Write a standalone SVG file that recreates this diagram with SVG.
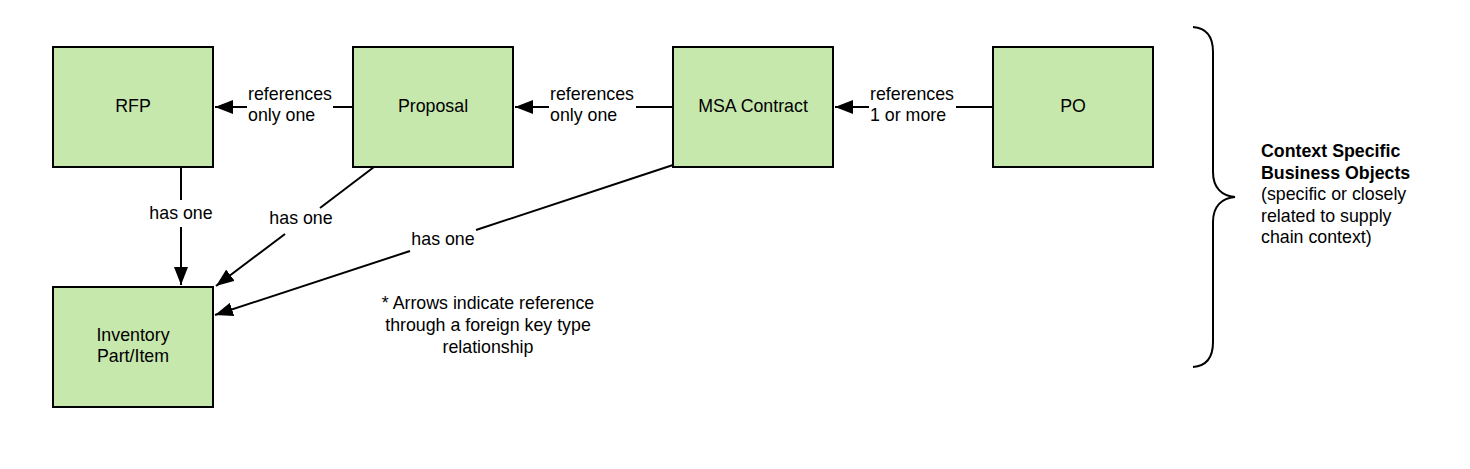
<svg xmlns="http://www.w3.org/2000/svg" width="1470" height="469" viewBox="0 0 1470 469">
<style>
.box{fill:#c7e8ac;stroke:#000;stroke-width:2}
.ln{stroke:#000;stroke-width:2;fill:none}
text{font-family:"Liberation Sans",Arial,sans-serif;font-size:17.8px;fill:#000}
.c{text-anchor:middle}
.b{font-weight:bold}
</style>
<defs>
<marker id="ah" markerUnits="userSpaceOnUse" markerWidth="20" markerHeight="14" refX="18" refY="7" orient="auto">
<path d="M0,0 L18,7 L0,14 Z" fill="#000"/>
</marker>
</defs>
<rect width="1470" height="469" fill="#fff"/>
<g id="connectors">
<line class="ln" x1="353" y1="107" x2="333" y2="107"/>
<line class="ln" x1="247" y1="107" x2="215" y2="107" marker-end="url(#ah)"/>
<text x="248" y="100">references</text>
<text x="248" y="121">only one</text>
<line class="ln" x1="673" y1="107" x2="636" y2="107"/>
<line class="ln" x1="549" y1="107" x2="515" y2="107" marker-end="url(#ah)"/>
<text x="550" y="100">references</text>
<text x="550" y="121">only one</text>
<line class="ln" x1="993" y1="107" x2="956" y2="107"/>
<line class="ln" x1="869" y1="107" x2="835" y2="107" marker-end="url(#ah)"/>
<text x="870" y="100">references</text>
<text x="870" y="121">1 or more</text>
<line class="ln" x1="181" y1="167" x2="181" y2="200"/>
<line class="ln" x1="181" y1="227" x2="181" y2="285" marker-end="url(#ah)"/>
<text class="c" x="181" y="219">has one</text>
<line class="ln" x1="374" y1="167" x2="320" y2="208"/>
<line class="ln" x1="285" y1="234" x2="216" y2="286" marker-end="url(#ah)"/>
<text class="c" x="301" y="224">has one</text>
<line class="ln" x1="673" y1="165" x2="476" y2="230"/>
<line class="ln" x1="410" y1="251" x2="215" y2="315" marker-end="url(#ah)"/>
<text class="c" x="443" y="245">has one</text>
</g>
<g id="rfp"><rect class="box" x="53" y="47" width="160" height="120"/><text class="c" x="133" y="112">RFP</text></g>
<g id="proposal"><rect class="box" x="353" y="47" width="160" height="120"/><text class="c" x="433" y="112">Proposal</text></g>
<g id="msa"><rect class="box" x="673" y="47" width="160" height="120"/><text class="c" x="753" y="112">MSA Contract</text></g>
<g id="po"><rect class="box" x="993" y="47" width="160" height="120"/><text class="c" x="1073" y="112">PO</text></g>
<g id="inventory"><rect class="box" x="53" y="287" width="160" height="120"/><text class="c" x="133" y="341">Inventory</text><text class="c" x="133" y="362">Part/Item</text></g>
<g id="note"><text class="c" x="488" y="309">* Arrows indicate reference</text><text class="c" x="488" y="331">through a foreign key type</text><text class="c" x="488" y="353">relationship</text></g>
<g id="brace">
<path class="ln" d="M1193,27 C1206,28 1213,36 1213,52 L1213,172 C1213,188 1222,196 1235,197 C1222,198 1213,206 1213,222 L1213,342 C1213,358 1206,366 1193,367"/>
<text class="b" x="1261" y="157">Context Specific</text>
<text class="b" x="1261" y="179">Business Objects</text>
<text x="1261" y="200">(specific or closely</text>
<text x="1261" y="222">related to supply</text>
<text x="1261" y="243">chain context)</text>
</g>
</svg>
